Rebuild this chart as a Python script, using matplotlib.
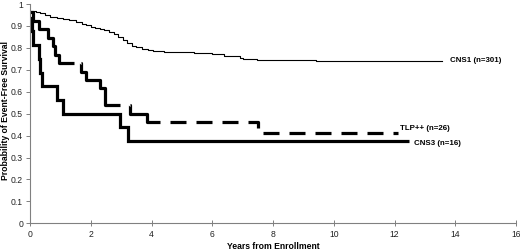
import matplotlib
matplotlib.use("Agg")
import matplotlib.pyplot as plt

plt.rcParams['font.family'] = ['Liberation Sans', 'DejaVu Sans']
plt.rcParams['lines.scale_dashes'] = False

# ---- data ----
cns1_t = [0, 0.2, 0.33, 0.5, 0.66, 0.9, 1.1, 1.3, 1.5, 1.7, 1.86, 2.0, 2.15, 2.3, 2.45, 2.6,
          2.75, 2.9, 3.05, 3.2, 3.35, 3.5, 3.7, 3.9, 4.05, 4.4, 4.7, 5.4, 6.0, 6.4, 6.9, 7.0,
          7.46, 9.43, 13.58]
cns1_s = [0.968, 0.962, 0.957, 0.948, 0.94, 0.935, 0.93, 0.927, 0.92, 0.91, 0.904, 0.896,
          0.89, 0.886, 0.88, 0.872, 0.862, 0.85, 0.838, 0.822, 0.81, 0.802, 0.795, 0.79,
          0.785, 0.782, 0.779, 0.775, 0.77, 0.764, 0.755, 0.748, 0.745, 0.740, 0.740]

tlp_t = [0, 0.11, 0.31, 0.60, 0.75, 0.82, 0.96, 1.68, 1.86, 2.30, 2.47, 3.29, 3.84, 7.51, 12.1]
tlp_s = [0.962, 0.923, 0.885, 0.846, 0.808, 0.769, 0.731, 0.692, 0.654, 0.615, 0.538, 0.50, 0.46, 0.41, 0.41]

cns3_t = [0, 0.08, 0.11, 0.31, 0.34, 0.38, 0.88, 1.10, 2.96, 3.23, 12.47]
cns3_s = [0.9375, 0.875, 0.8125, 0.75, 0.6875, 0.625, 0.5625, 0.50, 0.4375, 0.375, 0.375]

series_labels = ["CNS1 (n=301)", "TLP++ (n=26)", "CNS3 (n=16)"]
x_ticks = [0, 2, 4, 6, 8, 10, 12, 14, 16]
y_ticks = [0, 0.1, 0.2, 0.3, 0.4, 0.5, 0.6, 0.7, 0.8, 0.9, 1]
y_tick_labels = ["0", "0.1", "0.2", "0.3", "0.4", "0.5", "0.6", "0.7", "0.8", "0.9", "1"]
x_title = "Years from Enrollment"
y_title = "Probability of Event-Free Survival"

# ---- figure ----
fig = plt.figure(figsize=(5.2, 2.52), dpi=100)
ax = fig.add_axes([30 / 520, 28.7 / 252, 486 / 520, 219.3 / 252])

ax.plot(cns1_t, cns1_s, drawstyle='steps-post', color='black', lw=0.8)

px = 0.72  # points per pixel at 100 dpi
dash = [95, 7, 81, 10, 47, 10]
dash += [16, 10] * 12
ax.plot(tlp_t, tlp_s, drawstyle='steps-post', color='black', lw=2.3,
        dashes=[d * px for d in dash], dash_capstyle='butt', solid_capstyle='butt')

ax.plot(cns3_t, cns3_s, drawstyle='steps-post', color='black', lw=2.3,
        solid_capstyle='butt', solid_joinstyle='miter')

ax.text(13.82, 0.742, series_labels[0], fontsize=5.7, fontweight='bold', va='center', ha='left')
ax.text(12.17, 0.432, series_labels[1], fontsize=5.7, fontweight='bold', va='center', ha='left')
ax.text(12.63, 0.362, series_labels[2], fontsize=5.7, fontweight='bold', va='center', ha='left')

ax.set_xlim(0, 16)
ax.set_ylim(0, 1)
ax.set_xticks(x_ticks)
ax.set_xticklabels([str(v) for v in x_ticks])
ax.set_yticks(y_ticks)
ax.set_yticklabels(y_tick_labels)

for s in ['top', 'right']:
    ax.spines[s].set_visible(False)
for s in ['left', 'bottom']:
    ax.spines[s].set_color('#808080')
    ax.spines[s].set_linewidth(0.8)

ax.tick_params(axis='x', direction='inout', length=4, width=0.7, colors='#808080',
               labelsize=6.2, labelcolor='#222222', pad=3)
ax.tick_params(axis='y', direction='out', length=3, width=0.7, colors='#808080',
               labelsize=6.2, labelcolor='#222222', pad=2)

fig.text(273 / 520, 1 - 246.5 / 252, x_title, fontsize=6.2, fontweight='bold',
         ha='center', va='center')
fig.text(5.5 / 520, 1 - 111 / 252, y_title, fontsize=6.2, fontweight='bold',
         ha='center', va='center', rotation=90)

fig.savefig("out.png", dpi=100)
